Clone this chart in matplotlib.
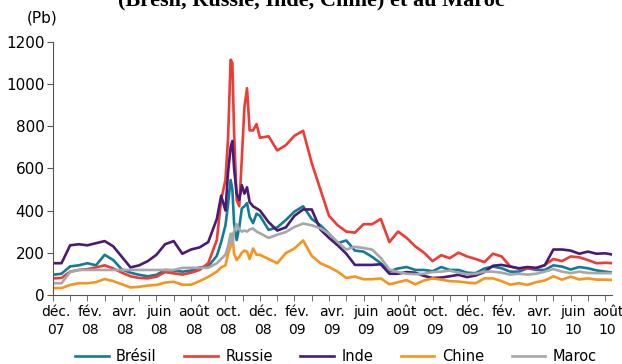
import matplotlib
matplotlib.use("Agg")
import matplotlib.pyplot as plt
import numpy as np

plt.rcParams['font.family'] = ['Liberation Sans Narrow', 'DejaVu Sans']

# months counted from 1 Dec 2007
months = [0, 0.5, 1, 1.5, 2, 2.5, 3, 3.5, 4, 4.5, 5, 5.5, 6, 6.5, 7, 7.5, 8, 8.5, 9, 9.5,
          9.75, 10, 10.15, 10.3, 10.4, 10.5, 10.65, 10.8, 10.95, 11.1, 11.25, 11.4, 11.6, 11.8, 12,
          12.5, 13, 13.5, 14, 14.5, 15, 15.5, 16, 16.5, 17, 17.5, 18, 18.5, 19, 19.5, 20, 20.5,
          21, 21.5, 22, 22.5, 23, 23.5, 24, 24.5, 25, 25.5, 26, 26.5, 27, 27.5, 28, 28.5, 29,
          29.5, 30, 30.5, 31, 31.5, 32, 32.5]

bresil = [95, 100, 135, 140, 150, 140, 190, 165, 120, 105, 95, 88, 95, 118, 115, 110, 115, 130, 135, 185,
          250, 330, 430, 545, 500, 340, 260, 320, 410, 420, 435, 370, 340, 385, 375,
          308, 320, 355, 395, 420, 360, 330, 290, 245, 258, 210, 205, 180, 150, 112, 125, 132,
          118, 118, 112, 132, 118, 118, 105, 103, 125, 134, 126, 110, 110, 126, 118, 118, 140,
          134, 120, 132, 126, 116, 110, 105]

russie = [78, 80, 110, 118, 122, 130, 140, 125, 105, 88, 80, 78, 86, 108, 102, 96, 105, 118, 150, 260,
          450, 545, 740, 1115, 1100, 770, 450, 420, 650, 890, 980, 780, 780, 810, 745,
          752, 685, 710, 755, 778, 625, 500, 375, 330, 300, 295, 335, 335, 360, 250, 300, 270,
          230, 200, 160, 188, 174, 200, 182, 170, 155, 195, 182, 135, 124, 126, 125, 142, 170,
          160, 182, 178, 165, 150, 152, 150]

inde = [150, 150, 235, 240, 235, 245, 255, 230, 180, 130, 140, 160, 190, 240, 255, 195, 215, 225, 250, 360,
        470, 400, 580, 700, 730, 600, 480, 450, 520, 480, 510, 440, 420, 410, 400,
        345, 305, 320, 375, 405, 405, 310, 270, 235, 195, 142, 142, 142, 145, 100, 100, 108,
        105, 90, 80, 82, 88, 95, 84, 92, 108, 138, 142, 134, 126, 132, 128, 140, 215,
        215, 210, 195, 205, 195, 197, 190]

chine = [32, 32, 47, 55, 55, 60, 75, 65, 50, 35, 38, 44, 47, 58, 62, 48, 48, 65, 85, 110,
         130, 140, 195, 230, 290, 195, 165, 180, 200, 210, 205, 170, 220, 190, 190,
         170, 150, 198, 220, 258, 185, 150, 132, 110, 80, 87, 74, 74, 78, 50, 60, 70,
         50, 68, 78, 72, 65, 63, 58, 55, 78, 78, 65, 48, 55, 47, 60, 68, 88,
         72, 86, 73, 78, 72, 72, 70]

maroc = [55, 55, 108, 118, 118, 118, 118, 118, 118, 118, 118, 118, 118, 118, 118, 128, 128, 128, 128, 150,
         170, 190, 230, 290, 240, 300, 335, 310, 300, 305, 300, 310, 315, 300, 292,
         270, 285, 298, 322, 338, 330, 316, 290, 250, 215, 228, 222, 215, 175, 120, 108, 100,
         98, 100, 108, 110, 115, 105, 98, 100, 110, 110, 105, 96, 100, 96, 100, 110, 122,
         110, 103, 110, 104, 103, 103, 103]

tick_labels = ["déc.\n07", "fév.\n08", "avr.\n08", "juin\n08", "août\n08", "oct.\n08",
               "déc.\n08", "fév.\n09", "avr.\n09", "juin\n09", "août\n09", "oct.\n09",
               "déc.\n09", "fév.\n10", "avr.\n10", "juin\n10", "août\n10"]

series = [("Brésil", bresil, "#127c98"),
          ("Russie", russie, "#ee3b33"),
          ("Inde", inde, "#4a1a74"),
          ("Chine", chine, "#f7941d"),
          ("Maroc", maroc, "#a7a7aa")]

fig = plt.figure(figsize=(6.22, 3.64), dpi=100)
ax = fig.add_axes([0.085, 0.19, 0.899, 0.695])

for name, vals, col in series:
    ax.plot(months, vals, color=col, lw=1.9, label=name, solid_joinstyle='round')

ax.set_ylim(0, 1200)
ax.set_xlim(0, 32.4)
ax.set_yticks([0, 200, 400, 600, 800, 1000, 1200])
ax.tick_params(axis='y', labelsize=11, length=4, color='#555555', pad=2)

ax.set_xticks(np.arange(0, 33, 1), minor=True)
ax.set_xticks(np.arange(0, 33, 2) + 0.15)
ax.set_xticklabels(tick_labels, fontsize=10, linespacing=1.4)
ax.tick_params(axis='x', which='major', length=0, pad=7)
ax.tick_params(axis='x', which='minor', length=4, color='#555555')

for s in ['top', 'right']:
    ax.spines[s].set_visible(False)
ax.spines['left'].set_color('#555555')
ax.spines['bottom'].set_color('#555555')

fig.text(0.5, 1.0, "(Brésil, Russie, Inde, Chine) et au Maroc", ha='center', va='center',
         fontsize=16, fontweight='bold', family=['Liberation Serif', 'DejaVu Serif'])
fig.text(0.068, 0.95, "(Pb)", ha='center', va='center', fontsize=11)

fig.legend(loc='center', ncol=5, bbox_to_anchor=(0.54, 0.02), frameon=False,
           fontsize=10.5, handlelength=2.3, columnspacing=1.9, handletextpad=0.5)

fig.savefig("out.png", dpi=100)
